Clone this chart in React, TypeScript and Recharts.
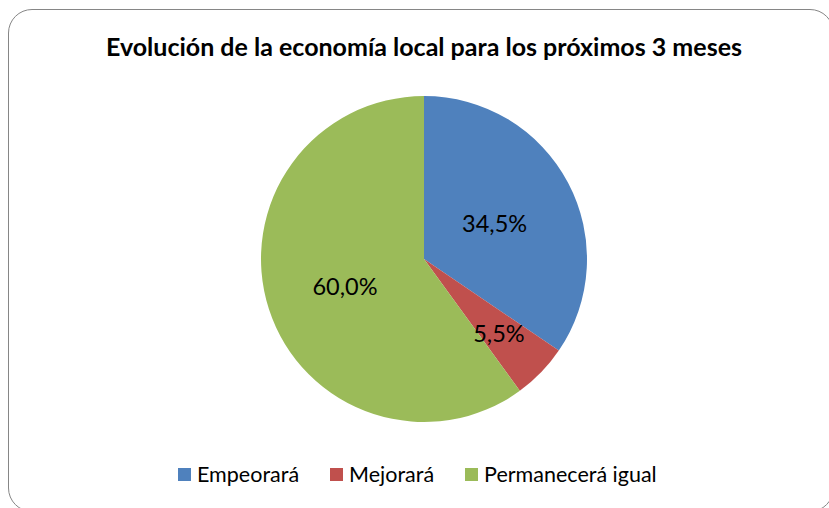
import { PieChart, Pie, Cell } from "recharts"

const categories = ["Empeorará", "Mejorará", "Permanecerá igual"]
const values = [34.5, 5.5, 60.0]
const COLORS = ["#4f81bd", "#c0504d", "#9bbb59"]
// how far out (fraction of radius) each slice label sits
const LABEL_RADIUS = [0.49, 0.64, 0.51]

const data = categories.map((name, i) => ({ name, value: values[i] }))

const FONT = "Lato, 'Open Sans', sans-serif"

const RADIAN = Math.PI / 180

// eslint-disable-next-line @typescript-eslint/no-explicit-any
function renderLabel(props: any) {
  const { cx, cy, midAngle, outerRadius, value, index } = props
  const r = outerRadius * LABEL_RADIUS[index]
  const x = cx + r * Math.cos(-midAngle * RADIAN)
  const y = cy + r * Math.sin(-midAngle * RADIAN)
  return (
    <text x={x} y={y + 1} textAnchor="middle" dominantBaseline="central" fontSize={23.5} fontFamily={FONT} fill="#000">
      {value.toFixed(1).replace(".", ",")}%
    </text>
  )
}

export default function App() {
  return (
    <div style={{ position: "absolute", left: 0, top: 0, width: 829, height: 508, background: "#fff", fontFamily: FONT, overflow: "hidden" }}>
      <div
        style={{
          position: "absolute",
          left: 8,
          top: 9,
          width: 826,
          height: 503,
          border: "1.5px solid #868686",
          borderRadius: 24,
          boxSizing: "border-box",
        }}
      />
      <div
        style={{
          position: "absolute",
          top: 31,
          left: 0,
          width: 848,
          textAlign: "center",
          fontWeight: 700,
          fontSize: 25,
          lineHeight: "30px",
          color: "#000",
        }}
      >
        Evolución de la economía local para los próximos 3 meses
      </div>
      <div style={{ position: "absolute", left: 0, top: 0 }}>
        <PieChart width={829} height={508} margin={{ top: 0, right: 0, bottom: 0, left: 0 }}>
          <Pie
            data={data}
            dataKey="value"
            nameKey="name"
            cx={424}
            cy={259}
            outerRadius={163}
            startAngle={90}
            endAngle={-270}
            stroke="none"
            label={renderLabel}
            labelLine={false}
            isAnimationActive={false}
          >
            {data.map((_, i) => (
              <Cell key={i} fill={COLORS[i]} />
            ))}
          </Pie>
        </PieChart>
      </div>
      <div
        style={{
          position: "absolute",
          top: 461,
          left: 178,
          height: 26,
          display: "flex",
          alignItems: "center",
          fontSize: 21.5,
          lineHeight: "26px",
          color: "#000",
        }}
      >
        {categories.map((c, i) => (
          <div key={c} style={{ display: "flex", alignItems: "center", marginRight: 31 }}>
            <span style={{ width: 13, height: 13, background: COLORS[i], display: "inline-block", marginRight: 6 }} />
            <span>{c}</span>
          </div>
        ))}
      </div>
    </div>
  )
}
